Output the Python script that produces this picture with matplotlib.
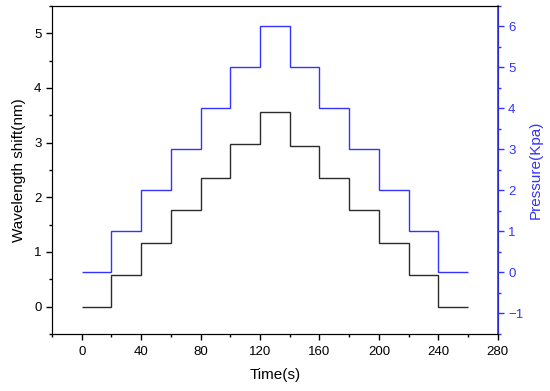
import matplotlib
matplotlib.use("Agg")
import matplotlib.pyplot as plt
from matplotlib.ticker import MultipleLocator

plt.rcParams['font.family'] = ['Liberation Sans', 'DejaVu Sans']

# bordas dos degraus (s)
time_edges = [0, 20, 40, 60, 80, 100, 120, 140, 160, 180, 200, 220, 240, 260]
# deslocamento do comprimento de onda (nm)
wavelength_shift = [0.0, 0.57, 1.17, 1.77, 2.36, 2.97, 3.56, 2.94, 2.36, 1.76, 1.17, 0.57, 0.0]
# pressão aplicada (Kpa)
pressure = [0, 1, 2, 3, 4, 5, 6, 5, 4, 3, 2, 1, 0]

blue = '#3333ff'

fig = plt.figure(figsize=(5.5, 3.91), dpi=100)
ax = fig.add_axes([0.0945, 0.1458, 0.8105, 0.8389])
ax2 = ax.twinx()

ax.stairs(wavelength_shift, time_edges, baseline=None, color='#2b2b2b', lw=1.0)
ax2.stairs(pressure, time_edges, baseline=None, color=blue, lw=1.0)

ax.set_xlim(-20, 280)
ax.set_ylim(-0.5, 5.5)
ax2.set_ylim(-1.5, 6.5)

ax.xaxis.set_major_locator(MultipleLocator(40))
ax.xaxis.set_minor_locator(MultipleLocator(20))
ax.yaxis.set_major_locator(MultipleLocator(1))
ax.yaxis.set_minor_locator(MultipleLocator(0.5))
ax2.yaxis.set_major_locator(MultipleLocator(1))
ax2.yaxis.set_minor_locator(MultipleLocator(0.5))

ax.tick_params(axis='both', which='major', direction='out', length=4, width=1, labelsize=9.5)
ax.tick_params(axis='x', which='major', pad=5)
ax.tick_params(axis='both', which='minor', direction='out', length=2.5, width=1)
ax2.tick_params(axis='y', which='major', direction='out', length=4, width=1,
                colors=blue, labelsize=9.5)
ax2.tick_params(axis='y', which='minor', direction='out', length=2.5, width=1, colors=blue)

for sp in ['left', 'bottom', 'top']:
    ax.spines[sp].set_color('#222222')
ax2.spines['right'].set_color(blue)
ax2.spines['right'].set_linewidth(1.2)

ax.set_xlabel('Time(s)', fontsize=11, labelpad=7)
ax.set_ylabel('Wavelength shift(nm)', fontsize=11, labelpad=6)
ax2.set_ylabel('Pressure(Kpa)', fontsize=11, color=blue)

fig.savefig('out.png', dpi=100)
